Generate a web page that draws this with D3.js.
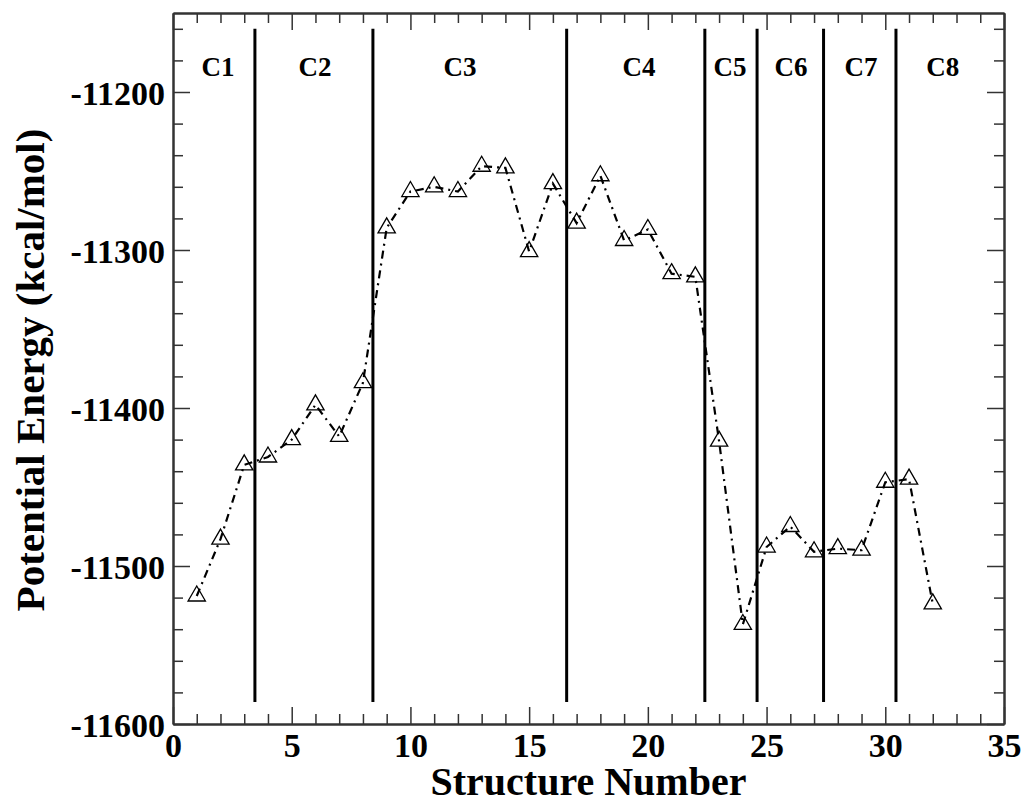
<!DOCTYPE html>
<html>
<head>
<meta charset="utf-8">
<script src="https://cdn.jsdelivr.net/npm/d3@7"></script>
<style>
    body { margin: 0; background: #fff; }
    svg { display: block; }
    .chart text { font-family: "Liberation Serif", "Times New Roman", serif; font-weight: bold; fill: #000; }
</style>
</head>
<body>
<div id="chart"></div>
<script>
// Structure number vs potential energy
const structureNumbers = [1, 2, 3, 4, 5, 6, 7, 8, 9, 10, 11, 12, 13, 14, 15, 16,
    17, 18, 19, 20, 21, 22, 23, 24, 25, 26, 27, 28, 29, 30, 31, 32];
const energies = [-11519, -11483, -11436, -11431, -11420, -11398, -11418, -11384,
    -11286, -11263, -11260, -11263, -11247, -11248, -11301, -11258,
    -11283, -11253, -11294, -11287, -11315, -11317, -11421, -11537,
    -11488, -11475, -11491, -11489, -11490, -11447, -11445, -11524];

// cluster separators and labels
const clusterBoundaries = [3.45, 8.42, 16.58, 22.4, 24.6, 27.4, 30.45];
const boundaryRange = [-11586, -11160];
const clusterLabels = ['C1', 'C2', 'C3', 'C4', 'C5', 'C6', 'C7', 'C8'];
const clusterLabelX = [1.9, 5.98, 12.09, 19.63, 23.46, 26.03, 28.98, 32.42];
const clusterLabelY = -11190;

// axes
const xDomain = [0, 35];
const yDomain = [-11600, -11150];
const xTickValues = [0, 5, 10, 15, 20, 25, 30, 35];
const xMinorTicks = [1, 2, 3, 4, 6, 7, 8, 9, 11, 12, 13, 14, 16, 17, 18, 19, 21, 22, 23, 24, 26, 27, 28, 29, 31, 32, 33, 34];
const yTickValues = [-11600, -11500, -11400, -11300, -11200];
const yMinorTicks = [-11580, -11560, -11540, -11520, -11480, -11460, -11440, -11420, -11380, -11360,
    -11340, -11320, -11280, -11260, -11240, -11220, -11180, -11160];

const xTitle = 'Structure Number';
const yTitle = 'Potential Energy (kcal/mol)';

const W = 1027, H = 803;
const margin = {top: 13, right: 23, bottom: 79, left: 173};
const width = W - margin.left - margin.right;
const height = H - margin.top - margin.bottom;

const svg = d3.select('#chart')
    .append('svg')
    .attr('class', 'chart')
    .attr('width', W)
    .attr('height', H);

const g = svg.append('g')
    .attr('transform', `translate(${margin.left},${margin.top})`);

const x = d3.scaleLinear().domain(xDomain).range([0, width]);
const y = d3.scaleLinear().domain(yDomain).range([height, 0]);

const axisColor = '#333';

function styleAxis(sel) {
    sel.select('.domain').attr('stroke', axisColor).attr('stroke-width', 2);
    sel.selectAll('.tick line').attr('stroke', axisColor).attr('stroke-width', 1.5);
}

// minor ticks first (no labels)
g.append('g').attr('transform', `translate(0,${height})`)
    .call(d3.axisBottom(x).tickValues(xMinorTicks).tickSize(-10).tickSizeOuter(0).tickFormat(''))
    .call(styleAxis);
g.append('g')
    .call(d3.axisTop(x).tickValues(xMinorTicks).tickSize(-10).tickSizeOuter(0).tickFormat(''))
    .call(styleAxis);
g.append('g')
    .call(d3.axisLeft(y).tickValues(yMinorTicks).tickSize(-10).tickSizeOuter(0).tickFormat(''))
    .call(styleAxis);
g.append('g').attr('transform', `translate(${width},0)`)
    .call(d3.axisRight(y).tickValues(yMinorTicks).tickSize(-10).tickSizeOuter(0).tickFormat(''))
    .call(styleAxis);

// major ticks
const xAxis = g.append('g').attr('transform', `translate(0,${height})`)
    .call(d3.axisBottom(x).tickValues(xTickValues).tickSize(-17).tickSizeOuter(0).tickPadding(9).tickFormat(d3.format('d')))
    .call(styleAxis);
g.append('g')
    .call(d3.axisTop(x).tickValues(xTickValues).tickSize(-17).tickSizeOuter(0).tickFormat(''))
    .call(styleAxis);
const yAxis = g.append('g')
    .call(d3.axisLeft(y).tickValues(yTickValues).tickSize(-17).tickSizeOuter(0).tickPadding(8).tickFormat(d => String(d)))
    .call(styleAxis);
g.append('g').attr('transform', `translate(${width},0)`)
    .call(d3.axisRight(y).tickValues(yTickValues).tickSize(-17).tickSizeOuter(0).tickFormat(''))
    .call(styleAxis);

g.selectAll('.tick text')
    .attr('font-family', '"Liberation Serif", "Times New Roman", serif')
    .attr('font-weight', 'bold')
    .attr('font-size', 34)
    .attr('fill', '#000');
yAxis.selectAll('.tick text').attr('dy', '0.37em');

// cluster separators
g.selectAll('.boundary')
    .data(clusterBoundaries)
    .enter()
    .append('line')
    .attr('class', 'boundary')
    .attr('x1', d => x(d))
    .attr('x2', d => x(d))
    .attr('y1', y(boundaryRange[0]))
    .attr('y2', y(boundaryRange[1]))
    .attr('stroke', '#000')
    .attr('stroke-width', 3);

g.selectAll('.cluster-label')
    .data(clusterLabels)
    .enter()
    .append('text')
    .attr('class', 'cluster-label')
    .attr('x', (d, i) => x(clusterLabelX[i]))
    .attr('y', y(clusterLabelY))
    .attr('text-anchor', 'middle')
    .attr('font-size', 27)
    .text(d => d);

// energy line (dash-dot)
const points = structureNumbers.map((n, i) => ({n: n, e: energies[i]}));

const line = d3.line()
    .x(d => x(d.n))
    .y(d => y(d.e));

g.append('path')
    .datum(points)
    .attr('d', line)
    .attr('fill', 'none')
    .attr('stroke', '#000')
    .attr('stroke-width', 2.2)
    .attr('stroke-dasharray', '8,5,2,5');

// open triangle markers
const tri = d3.symbol().type(d3.symbolTriangle).size(130);
g.selectAll('.marker')
    .data(points)
    .enter()
    .append('path')
    .attr('class', 'marker')
    .attr('transform', d => `translate(${x(d.n)},${y(d.e)})`)
    .attr('d', tri)
    .attr('fill', 'none')
    .attr('stroke', '#000')
    .attr('stroke-width', 1.3);

// axis titles
svg.append('text')
    .attr('x', margin.left + width / 2)
    .attr('y', 795)
    .attr('text-anchor', 'middle')
    .attr('font-size', 40)
    .text(xTitle);

svg.append('text')
    .attr('transform', `translate(44,${margin.top + 357}) rotate(-90)`)
    .attr('text-anchor', 'middle')
    .attr('font-size', 41)
    .text(yTitle);
</script>
</body>
</html>
